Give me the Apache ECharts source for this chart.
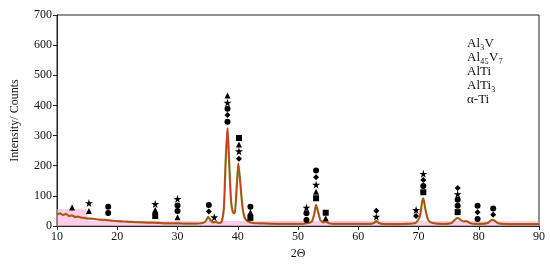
<!DOCTYPE html>
<html>
<head>
<meta charset="utf-8">
<script src="https://cdn.jsdelivr.net/npm/echarts@6/dist/echarts.min.js"></script>
<style>
  html, body { margin: 0; padding: 0; background: #fff; }
  #chart { width: 550px; height: 265px; }
</style>
</head>
<body>
<div id="chart"></div>
<script>
// XRD pattern: [2theta, counts]
var pattern = [
  [10, 38], [10.5, 42], [11, 36], [11.5, 40], [12, 33], [12.5, 35], [13, 30], [13.5, 31],
  [14, 28], [14.5, 27], [15, 25], [16, 24], [17, 21], [18, 20], [19, 18], [20, 16],
  [21, 15], [22, 14], [23, 13], [24, 12], [25, 11], [26, 11], [27, 10], [28, 9],
  [29, 9], [30, 9], [31, 8], [32, 8], [33, 8], [34, 9], [34.6, 14], [35.1, 30],
  [35.5, 18], [35.9, 12], [36.3, 14], [36.8, 10], [37.3, 13], [37.7, 60], [38.0, 220],
  [38.3, 325], [38.6, 200], [38.9, 80], [39.2, 45], [39.5, 42], [39.8, 120], [40.1, 207],
  [40.4, 150], [40.8, 60], [41.2, 25], [41.8, 14], [42.5, 10], [43.5, 9], [45, 8],
  [47, 7], [49, 7], [50.5, 7], [51.5, 9], [52.3, 15], [52.7, 40], [53.0, 70], [53.3, 50],
  [53.7, 20], [54.2, 12], [54.6, 15], [55.1, 9], [56, 7], [58, 7], [60, 7], [62, 7],
  [62.6, 10], [63, 16], [63.4, 10], [64, 7], [66, 6], [68, 7], [69.5, 10], [70.2, 30],
  [70.6, 80], [70.8, 92], [71.1, 60], [71.5, 25], [72, 12], [73, 8], [74.5, 7], [75.5, 10],
  [76, 20], [76.5, 27], [77, 20], [77.5, 15], [78, 16], [78.5, 10], [79.5, 7], [80.5, 7],
  [81.5, 10], [82.2, 20], [82.6, 18], [83.2, 9], [84, 7], [86, 6], [88, 6], [90, 6]
];

// pink background band under the pattern
var pinkBand = [[10, 56], [14.8, 56], [15.2, 17], [90, 17]];

var phaseNames = ['Al₃V', 'Al₄₅V₇', 'AlTi', 'AlTi₃', 'α-Ti'];

// phase markers above peaks: [2theta, height]
var markAl3V = [[18.5, 43], [18.5, 64], [30, 68], [30, 50], [35.2, 70], [38.3, 389], [38.3, 346],
  [42.1, 64], [51.4, 42], [51.4, 20], [53, 184], [70.8, 133], [76.5, 87], [76.5, 67],
  [79.8, 67], [79.8, 23], [82.4, 58]];
var markAl45V7 = [[15.3, 76], [26.3, 73], [30, 90], [36.1, 29], [38.3, 409], [40.2, 248],
  [51.4, 61], [53, 137], [63, 31], [69.6, 53], [70.8, 173], [76.5, 106]];
var markAlTi = [[12.5, 61], [15.3, 50], [26.3, 53], [30, 29], [38.3, 433], [40.2, 270],
  [42.1, 46], [53, 114], [54.6, 26]];
var markAlTi3 = [[26.3, 33], [40.2, 292], [42.1, 27], [53, 92], [54.6, 44], [70.8, 112], [76.5, 46]];
var markAlphaTi = [[35.2, 48], [38.3, 368], [40.2, 223], [53, 162], [63, 51], [69.6, 33],
  [70.8, 153], [76.5, 126], [79.8, 46], [82.4, 37]];

var starPath = 'path://M50,0 L61,35 L98,35 L68,57 L79,91 L50,70 L21,91 L32,57 L2,35 L39,35 Z';
var serif = '"Liberation Serif", "Times New Roman", serif';

function markerSeries(name, data, symbol, size) {
  return {
    name: name,
    type: 'scatter',
    data: data,
    symbol: symbol,
    symbolSize: size,
    itemStyle: { color: '#000', opacity: 1 },
    z: 5
  };
}

var chart = echarts.init(document.getElementById('chart'));
chart.setOption({
  animation: false,
  textStyle: { fontFamily: serif },
  grid: { left: 57, right: 11, top: 15, bottom: 39, show: true, borderColor: '#222', borderWidth: 1 },
  legend: {
    data: phaseNames,
    orient: 'vertical',
    left: 457,
    top: 32,
    itemWidth: 0,
    itemHeight: 0,
    itemGap: 1,
    textStyle: { fontFamily: serif, fontSize: 13, color: '#111' }
  },
  xAxis: {
    type: 'value',
    min: 10,
    max: 90,
    interval: 10,
    name: '2Θ',
    nameLocation: 'middle',
    nameGap: 17,
    nameTextStyle: { fontFamily: serif, fontSize: 12, color: '#111' },
    axisLine: { lineStyle: { color: '#222' } },
    axisTick: { inside: false, length: 4, lineStyle: { color: '#222' } },
    axisLabel: { fontFamily: serif, fontSize: 12, color: '#111', margin: 5 },
    splitLine: { show: false }
  },
  yAxis: {
    type: 'value',
    min: 0,
    max: 700,
    interval: 100,
    name: 'Intensity/ Counts',
    nameLocation: 'middle',
    nameRotate: 90,
    nameGap: 36,
    nameTextStyle: { fontFamily: serif, fontSize: 12, color: '#111' },
    axisLine: { show: true, lineStyle: { color: '#222' } },
    axisTick: { show: true, inside: false, length: 4, lineStyle: { color: '#222' } },
    axisLabel: { fontFamily: serif, fontSize: 12, color: '#111', margin: 5 },
    splitLine: { show: false }
  },
  series: [
    {
      type: 'line',
      data: pinkBand,
      symbol: 'none',
      silent: true,
      lineStyle: { width: 0 },
      areaStyle: { color: 'rgba(255, 175, 220, 0.85)', origin: 'start' },
      z: 1
    },
    {
      type: 'line',
      data: pattern,
      symbol: 'none',
      smooth: 0.2,
      silent: true,
      lineStyle: { color: '#8a7d1e', width: 2.2 },
      z: 2
    },
    {
      type: 'line',
      data: pattern,
      symbol: 'none',
      smooth: 0.2,
      silent: true,
      lineStyle: { color: '#d8301e', width: 1 },
      z: 3
    },
    markerSeries(phaseNames[0], markAl3V, 'circle', 6),
    markerSeries(phaseNames[1], markAl45V7, starPath, 8),
    markerSeries(phaseNames[2], markAlTi, 'triangle', 6),
    markerSeries(phaseNames[3], markAlTi3, 'rect', 6),
    markerSeries(phaseNames[4], markAlphaTi, 'diamond', 6)
  ]
});
</script>
</body>
</html>
